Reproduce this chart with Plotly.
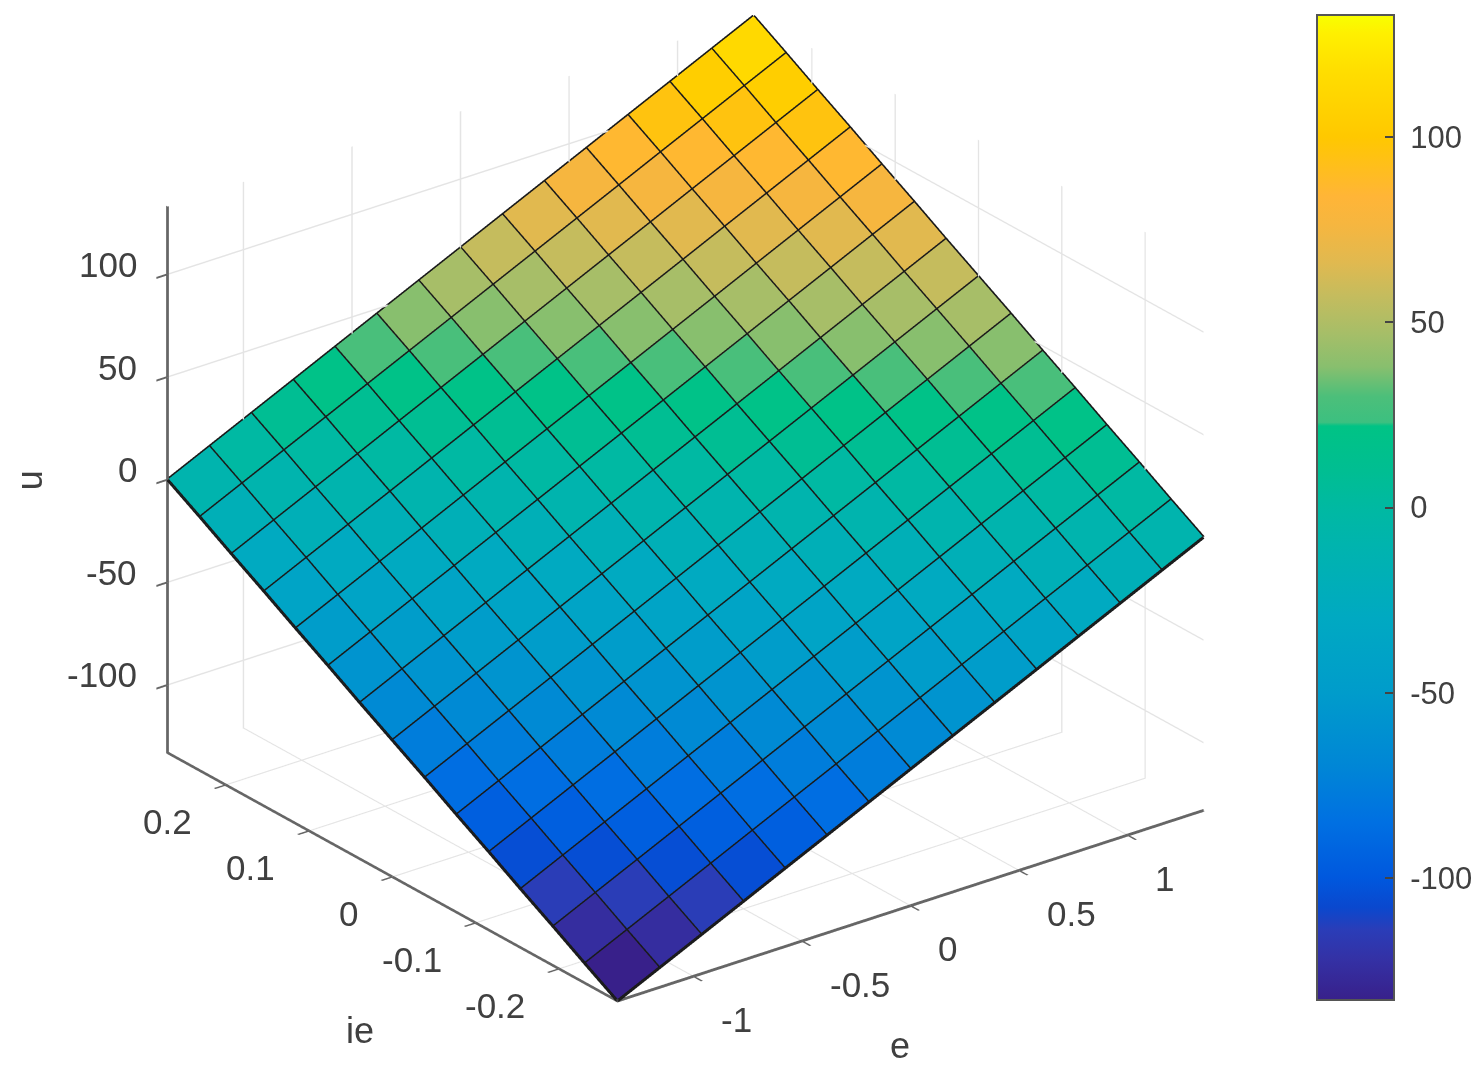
import plotly.graph_objects as go

# grid of the surface
e_vals = [-1.35, -1.157, -0.964, -0.771, -0.579, -0.386, -0.193, 0, 0.193, 0.386, 0.579, 0.771, 0.964, 1.157, 1.35]
ie_vals = [-0.27, -0.231, -0.193, -0.154, -0.116, -0.077, -0.039, 0, 0.039, 0.077, 0.116, 0.154, 0.193, 0.231, 0.27]

# u, one row per ie value
u_vals = [
    [-133, -123.5, -114, -104.5, -95, -85.5, -76, -66.5, -57, -47.5, -38, -28.5, -19, -9.5, 0],
    [-123.5, -114, -104.5, -95, -85.5, -76, -66.5, -57, -47.5, -38, -28.5, -19, -9.5, 0, 9.5],
    [-114, -104.5, -95, -85.5, -76, -66.5, -57, -47.5, -38, -28.5, -19, -9.5, 0, 9.5, 19],
    [-104.5, -95, -85.5, -76, -66.5, -57, -47.5, -38, -28.5, -19, -9.5, 0, 9.5, 19, 28.5],
    [-95, -85.5, -76, -66.5, -57, -47.5, -38, -28.5, -19, -9.5, 0, 9.5, 19, 28.5, 38],
    [-85.5, -76, -66.5, -57, -47.5, -38, -28.5, -19, -9.5, 0, 9.5, 19, 28.5, 38, 47.5],
    [-76, -66.5, -57, -47.5, -38, -28.5, -19, -9.5, 0, 9.5, 19, 28.5, 38, 47.5, 57],
    [-66.5, -57, -47.5, -38, -28.5, -19, -9.5, 0, 9.5, 19, 28.5, 38, 47.5, 57, 66.5],
    [-57, -47.5, -38, -28.5, -19, -9.5, 0, 9.5, 19, 28.5, 38, 47.5, 57, 66.5, 76],
    [-47.5, -38, -28.5, -19, -9.5, 0, 9.5, 19, 28.5, 38, 47.5, 57, 66.5, 76, 85.5],
    [-38, -28.5, -19, -9.5, 0, 9.5, 19, 28.5, 38, 47.5, 57, 66.5, 76, 85.5, 95],
    [-28.5, -19, -9.5, 0, 9.5, 19, 28.5, 38, 47.5, 57, 66.5, 76, 85.5, 95, 104.5],
    [-19, -9.5, 0, 9.5, 19, 28.5, 38, 47.5, 57, 66.5, 76, 85.5, 95, 104.5, 114],
    [-9.5, 0, 9.5, 19, 28.5, 38, 47.5, 57, 66.5, 76, 85.5, 95, 104.5, 114, 123.5],
    [0, 9.5, 19, 28.5, 38, 47.5, 57, 66.5, 76, 85.5, 95, 104.5, 114, 123.5, 133],
]

e_ticks = [-1, -0.5, 0, 0.5, 1]
e_labels = ['-1', '-0.5', '0', '0.5', '1']
ie_ticks = [-0.2, -0.1, 0, 0.1, 0.2]
ie_labels = ['-0.2', '-0.1', '0', '0.1', '0.2']
u_ticks = [-100, -50, 0, 50, 100]
u_labels = ['-100', '-50', '0', '50', '100']
u_min, u_max = -133, 133

# colour bar of the original, value -> colour
color_vals = [-133, -122, -114, -108, -100, -85, -70, -50, -30, -10, 0, 10, 22, 23, 30, 38, 47, 57, 66, 76, 84, 100, 118, 128, 133]
color_hex = ['#38208A', '#3431A5', '#2A3DB8', '#0A48CE', '#0058DE', '#0070E2', '#0086D6', '#009CCB', '#00A9C2',
             '#00B4AE', '#00B9A2', '#00BE92', '#00C385', '#3CC080', '#4CBF7A', '#88BF6E', '#A6BE68', '#C4BC5E',
             '#E0B950', '#F5B640', '#FFB537', '#FFC800', '#FFDE00', '#FFF000', '#F8FF00']
colorscale = [[(v - u_min) / (u_max - u_min), c] for v, c in zip(color_vals, color_hex)]

n = len(e_vals)
xs, ys, zs = [], [], []
for r in range(n):
    for c in range(n):
        xs.append(e_vals[c])
        ys.append(ie_vals[r])
        zs.append(u_vals[r][c])

# two triangles per cell, flat colour from the lower corner like matlab
ti, tj, tk, cell_u = [], [], [], []
for r in range(n - 1):
    for c in range(n - 1):
        a = r * n + c
        ti += [a, a]
        tj += [a + 1, a + n + 1]
        tk += [a + n + 1, a + n]
        cell_u += [u_vals[r][c], u_vals[r][c]]

# grid lines on the surface
lx, ly, lz = [], [], []
for r in range(n):
    lx += e_vals + [None]
    ly += [ie_vals[r]] * n + [None]
    lz += u_vals[r] + [None]
for c in range(n):
    lx += [e_vals[c]] * n + [None]
    ly += ie_vals + [None]
    lz += [u_vals[r][c] for r in range(n)] + [None]

fig = go.Figure()
fig.add_trace(go.Mesh3d(
    x=xs, y=ys, z=zs, i=ti, j=tj, k=tk,
    intensity=cell_u, intensitymode='cell',
    colorscale=colorscale, cmin=u_min, cmax=u_max,
    flatshading=True,
    lighting=dict(ambient=1, diffuse=0, specular=0, roughness=1, fresnel=0),
    hoverinfo='skip',
    colorbar=dict(
        x=1317 / 1484, xanchor='left', y=1 - 15 / 1072, yanchor='top',
        len=985, lenmode='pixels', thickness=77, thicknessmode='pixels',
        xpad=0, ypad=0, outlinecolor='#555555', outlinewidth=2,
        tickvals=u_ticks, ticktext=['\u00a0' + t for t in u_labels],
        ticks='inside', ticklen=10, tickcolor='#444444', tickwidth=2,
        tickfont=dict(family='Liberation Sans', size=31, color='#404040'),
    ),
))
fig.add_trace(go.Scatter3d(
    x=lx, y=ly, z=lz, mode='lines',
    line=dict(color='#1A1A1A', width=6),
    hoverinfo='skip', showlegend=False,
))

axis_common = dict(
    showbackground=False, showgrid=True, gridcolor='#E4E4E4', gridwidth=3,
    zeroline=False, showspikes=False, showline=True, linecolor='#666666', linewidth=6,
    ticks='outside', ticklen=14, tickcolor='#666666', tickwidth=4, showticklabels=False,
    title=dict(text=''),
)
label_font = dict(family='Liberation Sans', size=36, color='#404040')
tick_font = dict(family='Liberation Sans', size=35, color='#404040')

# the tick labels and titles sit further from the axes than gl3d allows, so annotate them
notes = []
for v, t in zip(e_ticks, e_labels):
    notes.append(dict(x=v, y=ie_vals[0], z=u_min, text=t, xanchor='left', xshift=26, yshift=-43))
for v, t in zip(ie_ticks, ie_labels):
    notes.append(dict(x=e_vals[0], y=v, z=u_min, text=t, xanchor='right', xshift=-32, yshift=-37))
for v, t in zip(u_ticks, u_labels):
    notes.append(dict(x=e_vals[0], y=ie_vals[-1], z=v, text=t, xanchor='right', xshift=-28, yshift=10))
for note in notes:
    note.update(showarrow=False, font=tick_font)
notes += [
    dict(x=0, y=ie_vals[0], z=u_min, text='e', showarrow=False, xshift=-10, yshift=-140, font=label_font),
    dict(x=e_vals[0], y=0, z=u_min, text='ie', showarrow=False, xshift=-32, yshift=-154, font=label_font),
    dict(x=e_vals[0], y=ie_vals[-1], z=0, text='u', showarrow=False, xshift=-138, textangle=-90, font=label_font),
]

scale = 1.453

fig.update_layout(
    width=1484, height=1072,
    margin=dict(l=0, r=0, t=0, b=0),
    paper_bgcolor='white',
    showlegend=False,
    scene=dict(
        domain=dict(x=[0, 0.9238], y=[0.0513, 1]),
        aspectmode='manual', aspectratio=dict(x=scale, y=scale, z=0.816 * scale),
        camera=dict(
            projection=dict(type='orthographic'),
            eye=dict(x=-0.552 * 2, y=-0.719 * 2, z=0.424 * 2),
            up=dict(x=0, y=0, z=1),
            center=dict(x=0, y=0, z=0),
        ),
        xaxis=dict(axis_common, range=[e_vals[0], e_vals[-1]], tickvals=e_ticks),
        yaxis=dict(axis_common, range=[ie_vals[0], ie_vals[-1]], tickvals=ie_ticks),
        zaxis=dict(axis_common, range=[u_min, u_max], tickvals=u_ticks),
        annotations=notes,
    ),
)

fig.write_html("out.html", post_script="document.body.style.margin='0';", config=dict(displayModeBar=False))
